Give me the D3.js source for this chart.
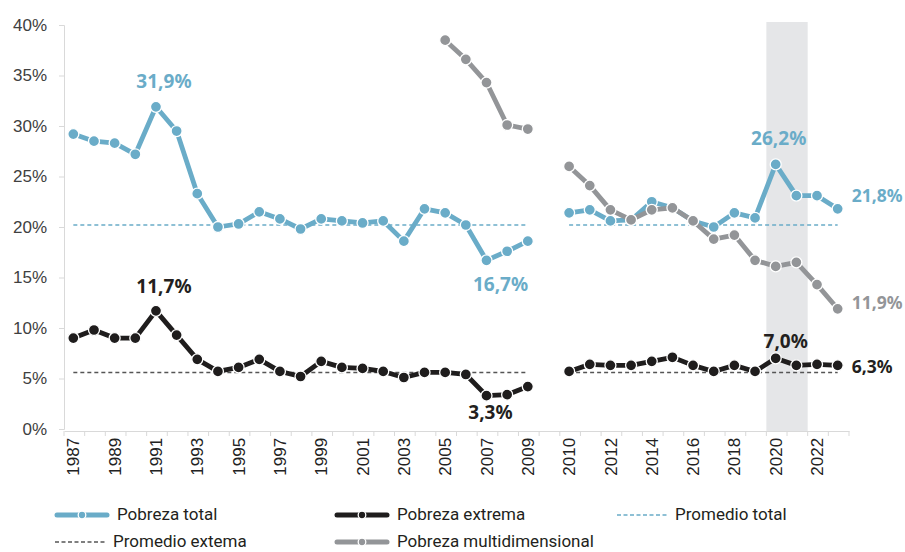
<!DOCTYPE html>
<html>
<head>
<meta charset="utf-8">
<script src="https://cdn.jsdelivr.net/npm/d3@7"></script>
<style>
  html, body { margin: 0; padding: 0; background: #fff; }
  svg { display: block; }
</style>
</head>
<body>
<svg id="chart" width="905" height="552"></svg>
<script>
// ---------- DATA ----------
const categories = ["1987","1988","1989","1990","1991","1992","1993","1994","1995","1996","1997","1998",
  "1999","2000","2001","2002","2003","2004","2005","2006","2007","2008","2009","gap",
  "2010","2011","2012","2013","2014","2015","2016","2017","2018","2019","2020","2021","2022","2023"];
const tickLabels = ["1987","1989","1991","1993","1995","1997","1999","2001","2003","2005","2007","2009",
  "2010","2012","2014","2016","2018","2020","2022"];
const yTicks = [0, 5, 10, 15, 20, 25, 30, 35, 40];

const yearsA = ["1987","1988","1989","1990","1991","1992","1993","1994","1995","1996","1997","1998",
  "1999","2000","2001","2002","2003","2004","2005","2006","2007","2008","2009"];
const yearsB = ["2010","2011","2012","2013","2014","2015","2016","2017","2018","2019","2020","2021","2022","2023"];
const yearsMultiA = ["2005","2006","2007","2008","2009"];

const pobrezaTotalA = [29.2, 28.5, 28.3, 27.2, 31.9, 29.5, 23.3, 20.0, 20.3, 21.5, 20.8, 19.8,
  20.8, 20.6, 20.4, 20.6, 18.6, 21.8, 21.4, 20.2, 16.7, 17.6, 18.6];
const pobrezaTotalB = [21.4, 21.7, 20.6, 20.7, 22.5, 21.9, 20.6, 20.0, 21.4, 20.9, 26.2, 23.1, 23.1, 21.8];

const pobrezaExtremaA = [9.0, 9.8, 9.0, 9.0, 11.7, 9.3, 6.9, 5.7, 6.1, 6.9, 5.7, 5.2,
  6.7, 6.1, 6.0, 5.7, 5.1, 5.6, 5.6, 5.4, 3.3, 3.4, 4.2];
const pobrezaExtremaB = [5.7, 6.4, 6.3, 6.3, 6.7, 7.1, 6.3, 5.7, 6.3, 5.7, 7.0, 6.3, 6.4, 6.3];

const multidimA = [38.5, 36.6, 34.3, 30.1, 29.7];
const multidimB = [26.0, 24.1, 21.7, 20.7, 21.7, 21.9, 20.6, 18.8, 19.2, 16.7, 16.1, 16.5, 14.3, 11.9];

const promedioTotal = 20.2;
const promedioExtrema = 5.6;

const shadedYears = ["2020", "2021"];

const annotations = [
  { year: "1991", value: 31.9, text: "31,9%", series: "total", pos: "above", dx: 8, dy: -19 },
  { year: "2007", value: 16.7, text: "16,7%", series: "total", pos: "below", dx: 14, dy: 31 },
  { year: "2020", value: 26.2, text: "26,2%", series: "total", pos: "above", dx: 3, dy: -19 },
  { year: "2023", value: 21.8, text: "21,8%", series: "total", pos: "right", dx: 14, dy: -13 },
  { year: "2023", value: 11.9, text: "11,9%", series: "multi", pos: "right", dx: 14, dy: -6 },
  { year: "1991", value: 11.7, text: "11,7%", series: "extrema", pos: "above", dx: 8, dy: -18 },
  { year: "2007", value: 3.3, text: "3,3%", series: "extrema", pos: "below", dx: 4, dy: 23 },
  { year: "2020", value: 7.0, text: "7,0%", series: "extrema", pos: "above", dx: 10, dy: -10 },
  { year: "2023", value: 6.3, text: "6,3%", series: "extrema", pos: "right", dx: 14, dy: 2 }
];

// ---------- STYLE ----------
const colors = { total: "#6aacc8", extrema: "#1f1d1d", multi: "#939598", avgExt: "#555555" };

const svg = d3.select("#chart");
const margin = { left: 64, right: 56 };
const W = 905;

const x = d3.scaleBand().domain(categories).range([margin.left, W - margin.right]).padding(0);
const y = d3.scaleLinear().domain([0, 40]).range([429, 25]);
const cx = d => x(d) + x.bandwidth() / 2 - 1;

// shaded band
svg.append("rect")
  .attr("x", x(shadedYears[0]))
  .attr("y", y(40) - 3)
  .attr("width", x(shadedYears[1]) + x.bandwidth() - x(shadedYears[0]))
  .attr("height", y(0) + 2 - (y(40) - 3))
  .attr("fill", "#e5e6e8");

// y axis
const yAxis = d3.axisLeft(y).tickValues(yTicks).tickFormat(d => d + "%").tickSize(5).tickPadding(12);
const gy = svg.append("g").attr("transform", `translate(${margin.left},0)`).call(yAxis);
gy.select(".domain").attr("stroke", "#d9d9d9");
gy.selectAll(".tick line").attr("stroke", "#d9d9d9");
gy.selectAll("text").attr("font-family", "'Liberation Sans', Arial, sans-serif")
  .attr("font-size", 17).attr("fill", "#404040");

// x axis
const xAxis = d3.axisBottom(x).tickSize(0).tickFormat(d => tickLabels.includes(d) ? d : "");
const gx = svg.append("g").attr("transform", `translate(0,${y(0) + 2})`).call(xAxis);
gx.select(".domain").attr("stroke", "#d9d9d9");
gx.selectAll(".tick text")
  .attr("font-family", "'Liberation Sans', Arial, sans-serif")
  .attr("font-size", 17).attr("fill", "#222")
  .attr("transform", "rotate(-90)")
  .attr("text-anchor", "end")
  .attr("dx", "-0.4em")
  .attr("dy", "0.3em")
  .attr("x", 0).attr("y", 0);
// boundary ticks
const boundaries = categories.map(c => x(c)).concat([x(categories[categories.length - 1]) + x.bandwidth()]);
gx.selectAll(".bt").data(boundaries).enter().append("line")
  .attr("x1", d => d).attr("x2", d => d).attr("y1", 0).attr("y2", 5)
  .attr("stroke", "#d9d9d9");

// average lines
function avgLine(years, v, color) {
  svg.append("line")
    .attr("x1", cx(years[0])).attr("x2", cx(years[years.length - 1]))
    .attr("y1", y(v)).attr("y2", y(v))
    .attr("stroke", color).attr("stroke-width", 1.5).attr("stroke-dasharray", "4,3");
}
avgLine(yearsA, promedioTotal, colors.total);
avgLine(yearsB, promedioTotal, colors.total);
avgLine(yearsA, promedioExtrema, colors.avgExt);
avgLine(yearsB, promedioExtrema, colors.avgExt);

// series
const line = d3.line().x(d => cx(d[0])).y(d => y(d[1]));
function drawSeries(years, vals, color) {
  const pts = years.map((yr, i) => [yr, vals[i]]);
  svg.append("path").datum(pts).attr("d", line)
    .attr("fill", "none").attr("stroke", color).attr("stroke-width", 4.8)
    .attr("stroke-linejoin", "round");
  svg.append("g").selectAll("circle").data(pts).enter().append("circle")
    .attr("cx", d => cx(d[0])).attr("cy", d => y(d[1])).attr("r", 5.5)
    .attr("fill", color).attr("stroke", "#fff").attr("stroke-width", 1.3);
}
drawSeries(yearsA, pobrezaTotalA, colors.total);
drawSeries(yearsB, pobrezaTotalB, colors.total);
drawSeries(yearsA, pobrezaExtremaA, colors.extrema);
drawSeries(yearsB, pobrezaExtremaB, colors.extrema);
drawSeries(yearsMultiA, multidimA, colors.multi);
drawSeries(yearsB, multidimB, colors.multi);

// annotations
const labelColor = { total: colors.total, extrema: "#231f20", multi: colors.multi };
annotations.forEach(a => {
  const px = cx(a.year), py = y(a.value);
  svg.append("text")
    .attr("font-family", "'Noto Sans', 'Open Sans', sans-serif")
    .attr("font-weight", 700).attr("font-size", a.pos === "right" ? 17.5 : 19)
    .attr("fill", labelColor[a.series])
    .attr("x", px + a.dx)
    .attr("y", py + a.dy)
    .attr("dy", a.pos === "right" ? "0.35em" : "0")
    .attr("text-anchor", a.pos === "right" ? "start" : "middle")
    .text(a.text);
});

// legend
const legendItems = [
  { label: "Pobreza total", type: "marker", color: colors.total, x: 55, y: 515 },
  { label: "Pobreza extrema", type: "marker", color: colors.extrema, x: 335, y: 515 },
  { label: "Promedio total", type: "dash", color: colors.total, x: 617, y: 515 },
  { label: "Promedio extema", type: "dash", color: colors.avgExt, x: 55, y: 542 },
  { label: "Pobreza multidimensional", type: "marker", color: colors.multi, x: 335, y: 542 }
];
legendItems.forEach(it => {
  const g = svg.append("g");
  if (it.type === "marker") {
    g.append("line").attr("x1", it.x + 2).attr("x2", it.x + 52).attr("y1", it.y).attr("y2", it.y)
      .attr("stroke", it.color).attr("stroke-width", 5).attr("stroke-linecap", "round");
    g.append("circle").attr("cx", it.x + 27).attr("cy", it.y).attr("r", 3.8)
      .attr("fill", it.color).attr("stroke", "#fff").attr("stroke-width", 1.3);
  } else {
    g.append("line").attr("x1", it.x).attr("x2", it.x + 52).attr("y1", it.y).attr("y2", it.y)
      .attr("stroke", it.color).attr("stroke-width", 1.3).attr("stroke-dasharray", "4,2.5");
  }
  const tx = it.type === "marker" ? it.x + 62 : it.x + 58;
  g.append("text").attr("x", tx).attr("y", it.y + 5)
    .attr("font-family", "Roboto, 'Noto Sans', sans-serif").attr("font-size", 17)
    .attr("fill", "#231f20").text(it.label);
});
</script>
</body>
</html>
